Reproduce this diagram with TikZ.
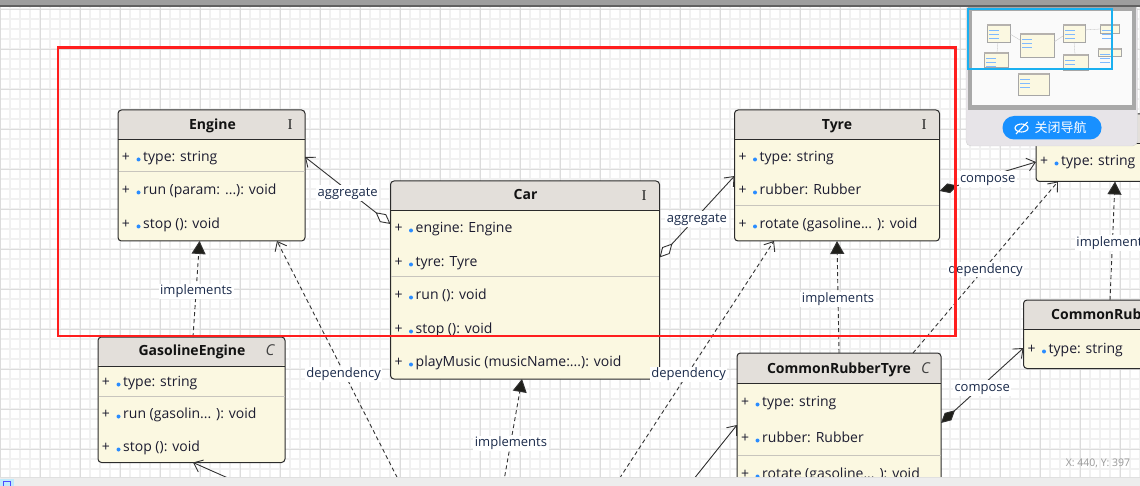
\documentclass[tikz,border=0pt]{standalone}
\usepackage{fontspec}
\setmainfont{Open Sans}
\newfontfamily\cjkfont{Noto Sans CJK SC}
\newfontfamily\ifont{Liberation Serif}
\usetikzlibrary{arrows.meta}
\definecolor{boxfill}{HTML}{FBF8E1}
\definecolor{hdrfill}{HTML}{E3DFDA}
\definecolor{boxline}{HTML}{2B2B2B}
\definecolor{sepline}{HTML}{C8C5BD}
\definecolor{memcol}{HTML}{1C1C30}
\definecolor{lblcol}{HTML}{1A2A4A}
\definecolor{dotblue}{HTML}{2A8CFF}
\definecolor{gridminor}{HTML}{F1F1F1}
\definecolor{gridmajor}{HTML}{DCDCDC}
\definecolor{redrect}{HTML}{FF1E1E}
\definecolor{navblue}{HTML}{1AB0F0}
\definecolor{btnblue}{HTML}{1890FF}
\definecolor{panelbg}{HTML}{E7E4E8}
\definecolor{conncol}{HTML}{333333}
\definecolor{tipcol}{HTML}{1F1F1A}

\newcommand{\mem}[4]{%
  \node[plusn] (#1p) at ({#2+8},{#3+1}) {+};
  \fill[dotblue] ({#2+20.5},{#3+2.5}) circle (2);
  \node[memn] (#1) at ({#2+25},{#3+1}) {#4};}

\begin{document}
\begin{tikzpicture}[x=1pt,y=-1pt,
  umlbox/.style={draw=boxline, line width=1pt, fill=boxfill, rounded corners=3.5pt,
    inner sep=0pt, outer sep=0pt},
  hdr/.style={path picture={\fill[hdrfill] (path picture bounding box.north west)
    rectangle ([yshift=-#1pt]path picture bounding box.north east);}},
  hdrline/.style={draw=boxline, line width=1pt},
  sepl/.style={draw=sepline, line width=1pt},
  memn/.style={anchor=west, inner sep=0pt, text height=10pt, text depth=3pt,
    font=\fontsize{14}{16}\selectfont, text=memcol},
  plusn/.style={anchor=center, inner sep=0pt, text height=10pt, text depth=3pt,
    font=\fontsize{14}{16}\selectfont, text=memcol},
  titlen/.style={inner sep=0pt, text height=10pt, text depth=3pt,
    font=\fontsize{14}{16}\selectfont\bfseries, text=black!93},
  ifn/.style={inner sep=0pt, font=\fontsize{15}{16}\ifont, text=black!85},
  cfn/.style={inner sep=0pt, font=\fontsize{15}{16}\selectfont\itshape, text=black!75},
  lbl/.style={fill=white, inner sep=1.5pt, text height=9.5pt, text depth=3pt, yshift=-2.5pt,
    font=\fontsize{13}{15}\selectfont, text=lblcol},
  conn/.style={draw=conncol, line width=0.9pt},
  dashc/.style={conn, dash pattern=on 4pt off 3pt},
  openhead/.style={-{Straight Barb[length=8pt,width=13pt]}},
  trihead/.style={-{Triangle[length=13pt,width=14pt,fill=tipcol]}},
  gridmin/.style={draw=gridminor, line width=1.2pt},
  gridmaj/.style={draw=gridmajor, line width=0.9pt},
  minibox/.style={draw=black!35, line width=0.4pt, fill=boxfill}
]
\useasboundingbox (0,0) rectangle (1140,486);
\clip (0,0) rectangle (1140,486);
\fill[white] (0,0) rectangle (1140,486);
% grid
\foreach \i in {0,10,...,1140} \draw[gridmin] (\i,0) -- (\i,486);
\foreach \j in {9,19,...,489} \draw[gridmin] (0,\j) -- (1140,\j);
\foreach \i in {0,40,...,1120} \draw[gridmaj] (\i,0) -- (\i,486);
\foreach \j in {9,49,...,489} \draw[gridmaj] (0,\j) -- (1140,\j);

% ---------- Engine
\node[umlbox, hdr=30, minimum width=187pt, minimum height=131pt] (engine) at (211.5,175.5) {};
\draw[hdrline] (118,140) -- (305,140);
\draw[sepl] (118.5,172) -- (304.5,172);
\node[titlen] (engT) at (212.5,126) {Engine};
\node[ifn] (engI) at (290,125) {I};
\mem{e1}{118}{157}{type: string}
\mem{e2}{118}{190}{run (param: ...): void}
\mem{e3}{118}{224}{stop (): void}

% ---------- Car
\node[umlbox, hdr=29.5, minimum width=269pt, minimum height=198pt] (car) at (525,280) {};
\draw[hdrline] (390.5,210.5) -- (659.5,210.5);
\draw[sepl] (391,277) -- (659,277);
\node[titlen] (carT) at (525.5,196.5) {Car};
\node[ifn] (carI) at (644,195.5) {I};
\mem{c1}{390.5}{228}{engine: Engine}
\mem{c2}{390.5}{262}{tyre: Tyre}
\mem{c3}{390.5}{295}{run (): void}
\mem{c4}{390.5}{329}{stop (): void}
\mem{c5}{390.5}{362}{playMusic (musicName:...): void}

% ---------- Tyre
\node[umlbox, hdr=29.5, minimum width=205pt, minimum height=131pt] (tyre) at (837,175.5) {};
\draw[hdrline] (734.5,139.5) -- (939.5,139.5);
\draw[sepl] (735,206) -- (939,206);
\node[titlen] (tyrT) at (837,126) {Tyre};
\node[ifn] (tyrI) at (924,125) {I};
\mem{t1}{734.5}{157}{type: string}
\mem{t2}{734.5}{190}{rubber: Rubber}
\mem{t3}{734.5}{224}{rotate (gasoline... ): void}

% ---------- GasolineEngine
\node[umlbox, hdr=29, minimum width=187pt, minimum height=125.5pt] (gas) at (191.5,399.75) {};
\draw[hdrline] (98,366) -- (285,366);
\draw[sepl] (98.5,396.5) -- (284.5,396.5);
\node[titlen] (gasT) at (192,351.5) {GasolineEngine};
\node[cfn] (gasC) at (270,350.5) {C};
\mem{g1}{98}{382}{type: string}
\mem{g2}{98}{414}{run (gasolin... ): void}
\mem{g3}{98}{447}{stop (): void}

% ---------- CommonRubberTyre
\node[umlbox, hdr=30.5, minimum width=204pt, minimum height=146pt] (crt) at (839,426) {};
\draw[hdrline] (737,383.5) -- (941,383.5);
\draw[sepl] (737.5,455) -- (940.5,455);
\node[titlen] (crtT) at (839,369.5) {CommonRubberTyre};
\node[cfn] (crtC) at (925.5,368.5) {C};
\mem{r1}{737}{402}{type: string}
\mem{r2}{737}{438}{rubber: Rubber}
\mem{r3}{737}{474}{rotate (gasoline... ): void}

% ---------- CommonRubber
\node[umlbox, hdr=29.5, minimum width=151.5pt, minimum height=68.5pt] (cr) at (1099.25,334.25) {};
\draw[hdrline] (1023.5,329.5) -- (1175,329.5);
\node[titlen, anchor=west] (crT) at (1051,316) {CommonRubber};
\mem{b1}{1023.5}{349}{type: string}

% ---------- Rubber (title hidden behind navigator)
\node[umlbox, hdr=30, minimum width=139pt, minimum height=67.5pt] (rub) at (1105.5,147.75) {};
\draw[hdrline] (1036,144) -- (1175,144);
\mem{u1}{1036}{161}{type: string}

% ---------- connectors
\draw[conn, {Diamond[open,length=19pt,width=10pt,fill=white]}-{Straight Barb[length=8pt,width=13pt]}]
  ([yshift=56pt]car.west) -- ([yshift=18.5pt]engine.east) node[lbl,pos=0.5] (lA) {aggregate};
\draw[conn, {Diamond[open,length=19pt,width=10pt,fill=white]}-{Straight Barb[length=8pt,width=13pt]}]
  ([yshift=22.5pt]car.east) -- ([yshift=-0.5pt]tyre.west) node[lbl,pos=0.5] (lB) {aggregate};
\draw[dashc, trihead] ([xshift=1.5pt]gas.north) -- ([xshift=-12pt]engine.south)
  node[lbl,pos=0.5] (lC) {implements};
\coordinate (dS) at (403.5,490);
\draw[dashc, openhead] (dS) -- ([xshift=65.5pt]engine.south) node[lbl,pos=0.473] (lD) {dependency};
\coordinate (eS) at (502.3,490);
\draw[dashc, trihead] (eS) -- ([xshift=-3pt]car.south) node[lbl,pos=0.44] (lE) {implements};
\coordinate (fS) at (612,490);
\draw[dashc, openhead] (fS) -- ([xshift=-63pt]tyre.south) node[lbl,pos=0.473] (lF) {dependency};
\draw[dashc, trihead] (crt.north) -- (tyre.south) node[lbl,pos=0.5] (lG) {implements};
\draw[conn, {Diamond[length=19pt,width=10pt,fill=tipcol]}-{Straight Barb[length=8pt,width=13pt]}]
  ([yshift=-15.5pt]tyre.east) -- ([yshift=-14.25pt]rub.west) node[lbl,pos=0.5] (lH) {compose};
\draw[dashc, openhead] ([xshift=74pt]crt.north) -- ([xshift=-47.5pt]rub.south)
  node[lbl,pos=0.5] (lI) {dependency};
\draw[dashc, trihead] ([xshift=10.75pt]cr.north) -- ([xshift=9.5pt]rub.south)
  node[lbl,pos=0.5] (lJ) {implements};
\draw[conn, {Diamond[length=19pt,width=10pt,fill=tipcol]}-{Straight Barb[length=8pt,width=13pt]}]
  ([yshift=3pt]crt.east) -- ([yshift=-13.75pt]cr.west) node[lbl,pos=0.5] (lK) {compose};
\coordinate (lS) at (685,490);
\draw[conn, openhead] (lS) -- ([yshift=1pt]crt.west);
\coordinate (mS) at (255,490);
\draw[conn, openhead] (mS) -- ([xshift=1.5pt]gas.south);

% ---------- red selection rectangle
\draw[redrect, line width=2.7pt] (58,47.5) rectangle (955.5,336);

% ---------- navigator panel
\fill[panelbg, draw=black!18, rounded corners=5pt] (966,5) rectangle (1137.5,146);
\fill[black!34] (967.5,7) rectangle (1135.5,110);
\fill[black!2] (972,11) rectangle (1131.5,105);
\foreach \a/\b/\c/\d in {987/24/1010/42, 1020/33/1054/57, 1063/24/1085/42, 1100/24/1119/33,
   984/52/1008/67, 1063/54/1088/70, 1098/48/1121/56, 1018/73/1049/95}{
  \draw[minibox] (\a,\b) rectangle (\c,\d);
  \fill[hdrfill!80!black] (\a,\b) rectangle (\c,\b+2.5);
  \foreach \k in {1,2,3} \draw[dotblue!60, line width=0.5pt] (\a+2,\b+2.5+\k*4) -- (\a+12,\b+2.5+\k*4);
}
\draw[black!25, line width=0.3pt] (1010,34) -- (1020,40) (1054,42) -- (1063,36) (997,52) -- (998,42)
  (1075,54) -- (1074,42) (1085,30) -- (1100,29);
\draw[navblue, line width=2pt] (968,9) rectangle (1112,69);
\fill[btnblue, rounded corners=11.5pt] (1002.5,116) rectangle (1101.5,139.5);
\draw[white, line width=1.1pt] (1021.5,128) ellipse (6.5 and 4);
\draw[white, line width=1.1pt] (1016,134) -- (1027.5,122);
\node[inner sep=0pt, text=white, font=\fontsize{13}{14}\cjkfont] (navbtn) at (1060.5,128) {关闭导航};

% ---------- top and bottom bars
\fill[black!38] (0,0) rectangle (1140,5.5);
\draw[black!62, line width=1.2pt] (0,6) -- (1140,6);
\fill[black!7] (0,477.5) rectangle (1140,486);
\draw[black!12, line width=0.6pt] (0,477.5) -- (1140,477.5);
\fill[cyan!25] (0,479) rectangle (14,486);
\draw[blue!70, line width=0.8pt] (3,481) rectangle (10,486);
\node[inner sep=0pt, text=black!40, font=\fontsize{10.5}{12}\selectfont] (status) at (1098,463) {X: 440, Y: 397};
\end{tikzpicture}
\end{document}
